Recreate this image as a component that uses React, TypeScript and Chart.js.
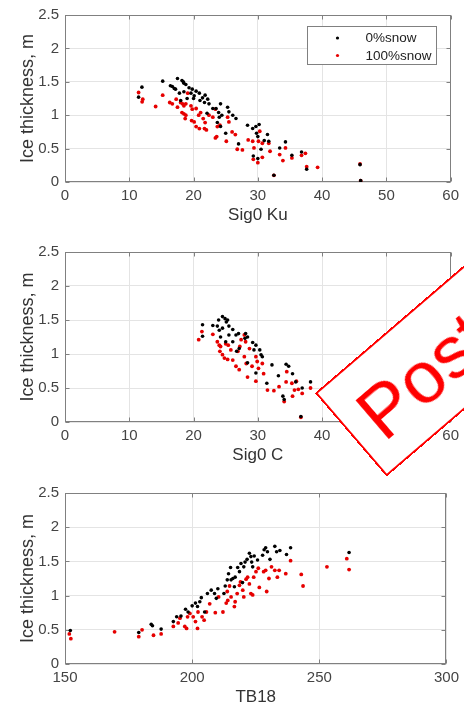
import React, { useEffect, useRef } from 'react';
import { Chart, registerables } from 'chart.js';

Chart.register(...registerables);

// ---------- Data ----------
const SERIES_NAMES = ['0%snow', '100%snow'];
const Y_TICKS = [0, 0.5, 1, 1.5, 2, 2.5];
const Y_TICK_LABELS = ['0', '0.5', '1', '1.5', '2', '2.5'];
const X_TICKS_SIG = [0, 10, 20, 30, 40, 50, 60];
const X_TICKS_TB = [150, 200, 250, 300];
const X_TITLES = ['Sig0 Ku', 'Sig0 C', 'TB18'];
const Y_TITLE = 'Ice thickness, m';
const STAMP_TEXT = 'Poster';

// Panel 1: Sig0 Ku
const kuBlackX = [11.97, 11.45, 15.2, 17.5, 16.4, 16.7, 17.2, 17.8, 18.2, 18.4, 18.5, 18.8, 19.3, 19.8, 19.6, 20.1, 20.4, 20.9, 21.4, 21.8, 22.2, 21.7, 22.4, 23.0, 23.5, 24.2, 23.9, 24.0, 24.4, 25.3, 25.5, 26.1, 26.6, 23.7, 24.2, 25.0, 27.0, 28.4, 29.2, 29.7, 30.2, 29.8, 30.0, 31.5, 31.0, 31.7, 30.5, 29.3, 30.0, 32.5, 33.4, 34.3, 35.3, 36.8, 37.6, 45.9, 46.0, 20.0, 22.1, 18.5, 17.0, 18.0, 19.0, 21.0];
const kuBlackY = [1.42, 1.27, 1.51, 1.55, 1.44, 1.43, 1.39, 1.33, 1.52, 1.50, 1.48, 1.46, 1.41, 1.39, 1.33, 1.29, 1.36, 1.33, 1.26, 1.30, 1.24, 1.19, 1.17, 1.10, 1.10, 1.17, 1.04, 0.97, 1.00, 1.12, 1.05, 1.00, 0.95, 0.89, 0.83, 0.73, 0.57, 0.85, 0.80, 0.83, 0.86, 0.73, 0.68, 0.71, 0.62, 0.61, 0.49, 0.39, 0.35, 0.10, 0.51, 0.60, 0.40, 0.45, 0.19, 0.26, 0.02, 1.25, 1.03, 1.35, 1.40, 1.22, 1.25, 1.22];
const kuRedX = [11.45, 12.1, 12.0, 14.1, 15.2, 16.3, 16.7, 17.3, 17.5, 18.0, 18.3, 18.5, 18.8, 18.2, 18.5, 18.8, 18.7, 19.1, 19.6, 19.8, 20.4, 19.7, 20.1, 20.4, 20.9, 20.8, 21.1, 21.5, 21.8, 22.0, 21.7, 22.4, 23.0, 23.4, 23.7, 24.1, 23.4, 23.6, 25.3, 25.5, 26.0, 26.5, 25.1, 26.8, 27.6, 28.5, 29.2, 29.4, 30.1, 30.3, 30.7, 31.9, 31.7, 29.3, 30.0, 30.7, 32.5, 33.4, 33.9, 34.3, 35.3, 36.8, 37.4, 37.6, 39.3, 45.9, 46.0];
const kuRedY = [1.34, 1.24, 1.20, 1.13, 1.30, 1.19, 1.17, 1.24, 1.12, 1.19, 1.17, 1.14, 1.17, 1.04, 1.02, 1.00, 0.95, 1.33, 1.14, 1.09, 1.10, 0.92, 0.90, 0.83, 0.80, 1.00, 1.04, 0.95, 0.89, 0.78, 0.80, 1.00, 0.97, 1.09, 0.83, 0.85, 0.66, 0.68, 0.97, 0.90, 0.75, 0.71, 0.61, 0.49, 0.48, 0.63, 0.61, 0.51, 0.61, 0.76, 0.58, 0.46, 0.58, 0.34, 0.29, 0.37, 0.10, 0.41, 0.32, 0.51, 0.36, 0.40, 0.43, 0.23, 0.22, 0.27, 0.02];

// Panel 2: Sig0 C
const cBlackX = [21.4, 21.4, 23.0, 23.7, 23.9, 24.5, 24.9, 25.1, 25.3, 24.0, 24.5, 25.5, 26.1, 26.6, 27.0, 25.5, 24.2, 25.0, 26.1, 28.1, 28.4, 28.0, 29.2, 29.7, 29.4, 30.3, 30.5, 30.7, 28.4, 29.7, 31.4, 32.2, 33.2, 34.4, 34.8, 33.9, 34.1, 35.4, 35.9, 36.9, 36.7, 38.2, 26.7, 27.1];
const cBlackY = [1.43, 1.26, 1.42, 1.41, 1.50, 1.55, 1.52, 1.47, 1.50, 1.35, 1.38, 1.41, 1.36, 1.28, 1.30, 1.28, 1.25, 1.18, 1.18, 1.30, 1.25, 1.23, 1.17, 1.13, 1.06, 1.06, 0.99, 0.96, 0.87, 0.72, 0.57, 0.84, 0.68, 0.85, 0.82, 0.38, 0.33, 0.71, 0.59, 0.50, 0.08, 0.59, 1.04, 1.08];
const cRedX = [20.8, 21.3, 23.0, 23.7, 24.0, 24.2, 24.1, 24.5, 25.0, 25.4, 25.8, 25.3, 24.8, 26.1, 26.6, 27.1, 26.9, 27.4, 27.2, 27.9, 28.1, 28.7, 27.9, 28.2, 28.4, 29.1, 29.7, 29.9, 30.1, 30.7, 30.9, 29.7, 31.5, 32.5, 33.3, 34.1, 34.5, 34.4, 35.3, 35.7, 35.4, 36.0, 36.3, 36.9, 36.7, 38.2];
const cRedY = [1.21, 1.33, 1.29, 1.18, 1.13, 1.11, 1.04, 0.99, 1.15, 1.13, 1.06, 0.92, 0.94, 0.91, 0.82, 0.77, 1.04, 1.21, 1.11, 1.28, 1.18, 1.08, 0.96, 0.86, 0.66, 0.82, 0.96, 0.89, 0.79, 0.86, 0.71, 0.60, 0.47, 0.46, 0.52, 0.30, 0.74, 0.59, 0.57, 0.47, 0.38, 0.60, 0.48, 0.42, 0.07, 0.50];

// Panel 3: TB18
const tbBlackX = [152.1, 179.0, 183.9, 184.4, 187.8, 192.6, 193.9, 195.6, 197.4, 198.4, 200.0, 201.3, 202.1, 203.0, 203.6, 204.9, 206.0, 207.5, 208.8, 210.1, 209.5, 212.5, 213.0, 213.8, 214.3, 215.1, 216.0, 216.9, 217.9, 218.6, 219.2, 220.3, 220.8, 221.6, 222.5, 223.1, 223.4, 223.8, 224.4, 225.7, 227.7, 228.3, 228.9, 229.6, 230.6, 232.5, 233.2, 234.5, 237.1, 238.7, 261.7, 216.6, 219.8, 215.3];
const tbBlackY = [0.49, 0.46, 0.58, 0.56, 0.51, 0.62, 0.69, 0.70, 0.80, 0.76, 0.85, 0.89, 0.84, 0.91, 0.97, 0.76, 1.03, 1.08, 1.03, 1.10, 0.96, 1.03, 1.14, 1.23, 1.32, 1.41, 1.25, 1.27, 1.41, 1.35, 1.47, 1.42, 1.49, 1.53, 1.62, 1.57, 1.49, 1.42, 1.58, 1.52, 1.59, 1.67, 1.70, 1.64, 1.53, 1.72, 1.64, 1.66, 1.60, 1.70, 1.63, 1.13, 1.19, 1.23];
const tbRedX = [151.7, 152.3, 169.5, 179.0, 180.3, 184.8, 187.8, 192.6, 194.5, 195.2, 197.1, 197.8, 198.2, 199.1, 200.4, 201.3, 202.1, 202.3, 203.9, 204.7, 205.6, 206.9, 209.1, 210.4, 212.1, 213.4, 214.0, 213.8, 214.7, 215.3, 216.6, 216.9, 217.7, 218.6, 219.0, 219.9, 220.3, 221.2, 221.8, 222.5, 223.1, 223.8, 224.2, 225.1, 226.0, 226.4, 228.1, 228.9, 229.3, 230.2, 231.2, 232.5, 233.5, 234.2, 236.8, 238.7, 242.9, 243.6, 253.0, 260.8, 261.7];
const tbRedY = [0.44, 0.37, 0.47, 0.40, 0.50, 0.42, 0.44, 0.55, 0.60, 0.67, 0.55, 0.52, 0.69, 0.74, 0.69, 0.62, 0.52, 0.76, 0.69, 0.64, 0.76, 0.88, 0.75, 0.98, 0.76, 0.89, 0.93, 1.06, 1.14, 0.98, 0.84, 0.91, 1.03, 1.15, 1.20, 1.08, 0.98, 1.24, 1.27, 1.17, 1.03, 1.01, 1.27, 1.35, 1.40, 1.12, 1.35, 1.37, 1.06, 1.25, 1.42, 1.37, 1.27, 1.37, 1.32, 1.51, 1.31, 1.14, 1.42, 1.54, 1.38];

// ---------- Styling ----------
const FONT = 'Liberation Sans, Arial, Helvetica, sans-serif';
const BLACK = '#000000';
const RED = '#e60000';
const FRAME = '#808080';
const GRID = '#e4e4e4';
const TEXT = '#444444';

const toPoints = (xs: number[], ys: number[]) => xs.map((x, i) => ({ x, y: ys[i] }));

const framePlugin = {
  id: 'matlabFrame',
  beforeDatasetsDraw(chart: any) {
    const { ctx, chartArea } = chart;
    const { left, right, top, bottom } = chartArea;
    const xs = chart.scales.x;
    const ys = chart.scales.y;
    const L = Math.round(left) + 0.5;
    const R = Math.round(right) - 0.5;
    const T = Math.round(top) + 0.5;
    const B = Math.round(bottom) - 0.5;
    ctx.save();
    ctx.strokeStyle = FRAME;
    ctx.lineWidth = 1;
    ctx.strokeRect(L, T, R - L, B - T);
    ctx.beginPath();
    const tl = 4;
    xs.ticks.forEach((t: any) => {
      const p = Math.round(xs.getPixelForValue(t.value)) + 0.5;
      ctx.moveTo(p, B); ctx.lineTo(p, B - tl);
      ctx.moveTo(p, T); ctx.lineTo(p, T + tl);
    });
    ys.ticks.forEach((t: any) => {
      const p = Math.round(ys.getPixelForValue(t.value)) + 0.5;
      ctx.moveTo(L, p); ctx.lineTo(L + tl, p);
      ctx.moveTo(R, p); ctx.lineTo(R - tl, p);
    });
    ctx.stroke();
    ctx.restore();
  },
};

const legendPlugin = {
  id: 'insideLegend',
  afterDraw(chart: any) {
    if (!chart.options.plugins.insideLegend?.show) return;
    const { ctx, chartArea } = chart;
    const bx = Math.round(chartArea.right) - 143.5;
    const by = Math.round(chartArea.top) + 11.5;
    const bw = 129;
    const bh = 38;
    ctx.save();
    ctx.fillStyle = '#ffffff';
    ctx.fillRect(bx, by, bw, bh);
    ctx.strokeStyle = FRAME;
    ctx.lineWidth = 1;
    ctx.strokeRect(bx, by, bw, bh);
    const colors = [BLACK, RED];
    ctx.font = `13.5px ${FONT}`;
    ctx.textBaseline = 'middle';
    ctx.textAlign = 'left';
    SERIES_NAMES.forEach((name, i) => {
      const cy = by + 11.5 + i * 17.5;
      ctx.fillStyle = colors[i];
      ctx.beginPath();
      ctx.arc(bx + 30, cy, 1.6, 0, Math.PI * 2);
      ctx.fill();
      ctx.fillStyle = '#222222';
      ctx.fillText(name, bx + 58, cy + 0.5);
    });
    ctx.restore();
  },
};

function makeConfig(
  bx: number[], by: number[], rx: number[], ry: number[],
  xTicks: number[], xTitle: string, padTop: number, showLegend: boolean
): any {
  return {
    type: 'scatter',
    data: {
      datasets: [
        {
          label: SERIES_NAMES[0],
          data: toPoints(bx, by),
          backgroundColor: BLACK,
          borderWidth: 0,
          pointRadius: 1.8,
        },
        {
          label: SERIES_NAMES[1],
          data: toPoints(rx, ry),
          backgroundColor: RED,
          borderWidth: 0,
          pointRadius: 1.9,
        },
      ],
    },
    options: {
      animation: false,
      responsive: false,
      events: [],
      layout: { padding: { top: padTop, right: 13, left: 0, bottom: 0 } },
      plugins: {
        legend: { display: false },
        tooltip: { enabled: false },
        insideLegend: { show: showLegend },
      },
      scales: {
        x: {
          type: 'linear',
          min: xTicks[0],
          max: xTicks[xTicks.length - 1],
          afterBuildTicks: (s: any) => { s.ticks = xTicks.map((v) => ({ value: v })); },
          afterFit: (s: any) => { s.height = 50; },
          grid: { color: GRID, drawTicks: false, lineWidth: 1 },
          border: { display: false },
          ticks: {
            color: TEXT, font: { size: 15, family: FONT }, padding: 5, maxRotation: 0, autoSkip: false,
            callback: (v: any) => String(v),
          },
          title: { display: true, text: xTitle, color: '#333333', font: { size: 17, family: FONT }, padding: { top: 0, bottom: 6 } },
        },
        y: {
          type: 'linear',
          min: Y_TICKS[0],
          max: Y_TICKS[Y_TICKS.length - 1],
          afterBuildTicks: (s: any) => { s.ticks = Y_TICKS.map((v) => ({ value: v })); },
          afterFit: (s: any) => { s.width = 65; },
          grid: { color: GRID, drawTicks: false, lineWidth: 1 },
          border: { display: false },
          ticks: {
            color: TEXT, font: { size: 15, family: FONT }, padding: 6, autoSkip: false,
            callback: (v: any) => {
              const i = Y_TICKS.indexOf(Number(v));
              return i >= 0 ? Y_TICK_LABELS[i] : String(v);
            },
          },
          title: { display: true, text: Y_TITLE, color: '#333333', font: { size: 18, family: FONT }, padding: { top: 17, bottom: 0 } },
        },
      },
    },
    plugins: [framePlugin, legendPlugin],
  };
}

function Panel({ top, height, config }: { top: number; height: number; config: any }) {
  const ref = useRef<HTMLCanvasElement | null>(null);
  useEffect(() => {
    if (!ref.current) return;
    const chart = new Chart(ref.current, config);
    return () => chart.destroy();
  }, [config]);
  return (
    <canvas
      ref={ref}
      width={464}
      height={height}
      style={{ position: 'absolute', left: 0, top, width: 464, height, display: 'block' }}
    />
  );
}

const config1 = makeConfig(kuBlackX, kuBlackY, kuRedX, kuRedY, X_TICKS_SIG, X_TITLES[0], 10, true);
const config2 = makeConfig(cBlackX, cBlackY, cRedX, cRedY, X_TICKS_SIG, X_TITLES[1], 20, false);
const config3 = makeConfig(tbBlackX, tbBlackY, tbRedX, tbRedY, X_TICKS_TB, X_TITLES[2], 21, false);

export default function App() {
  return (
    <div
      style={{
        position: 'absolute', left: 0, top: 0, width: 464, height: 714,
        overflow: 'hidden', background: '#ffffff',
      }}
    >
      <Panel top={0} height={232} config={config1} />
      <Panel top={232} height={240} config={config2} />
      <Panel top={472} height={242} config={config3} />
      <div
        style={{
          position: 'absolute', left: 315, top: 393, width: 420, height: 110,
          boxSizing: 'border-box', border: '2px solid #ff0000', background: '#ffffff',
          transformOrigin: '0 0', transform: 'rotate(-40.6deg)',
          color: '#ff0000', fontFamily: FONT, fontSize: 74, lineHeight: '74px',
          paddingTop: 19, paddingLeft: 18, whiteSpace: 'nowrap',
        }}
      >
        {STAMP_TEXT}
      </div>
    </div>
  );
}
